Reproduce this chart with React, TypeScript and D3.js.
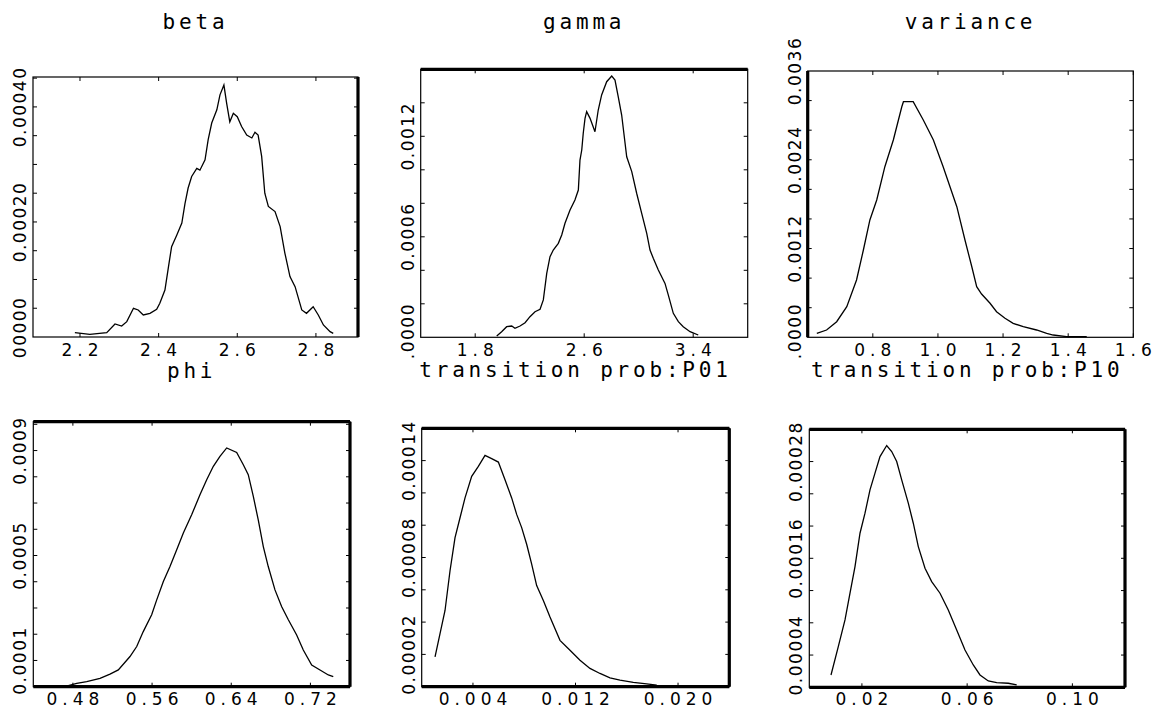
import React from 'react';
import * as d3 from 'd3';

// posterior densities
const betaX = [2.187, 2.225, 2.268, 2.289, 2.306, 2.319, 2.336, 2.348, 2.361, 2.378, 2.395, 2.403, 2.416, 2.425, 2.433, 2.446, 2.459, 2.467, 2.475, 2.484, 2.497, 2.505, 2.518, 2.526, 2.535, 2.548, 2.556, 2.566, 2.573, 2.581, 2.590, 2.600, 2.611, 2.624, 2.637, 2.645, 2.653, 2.662, 2.670, 2.679, 2.696, 2.709, 2.721, 2.734, 2.747, 2.764, 2.776, 2.793, 2.806, 2.819, 2.836, 2.844];
const betaY = [0.0000075, 0.0000046, 0.0000075, 0.0000226, 0.0000191, 0.0000267, 0.0000499, 0.000047, 0.0000383, 0.0000412, 0.0000481, 0.0000586, 0.0000817, 0.000122, 0.000157, 0.000177, 0.000198, 0.000232, 0.000259, 0.000279, 0.000293, 0.00029, 0.000308, 0.000343, 0.000372, 0.000395, 0.000421, 0.000438, 0.000406, 0.000374, 0.000389, 0.000383, 0.000366, 0.000351, 0.000346, 0.000356, 0.000351, 0.000314, 0.00025, 0.000227, 0.000218, 0.000192, 0.000146, 0.000105, 0.0000875, 0.000047, 0.0000412, 0.0000527, 0.0000383, 0.0000209, 0.0000093, 0.0000064];

const gammaX = [1.958, 1.994, 2.031, 2.068, 2.092, 2.129, 2.166, 2.202, 2.239, 2.276, 2.300, 2.325, 2.349, 2.373, 2.410, 2.435, 2.459, 2.496, 2.532, 2.557, 2.569, 2.582, 2.593, 2.606, 2.618, 2.643, 2.679, 2.703, 2.728, 2.765, 2.802, 2.826, 2.850, 2.875, 2.912, 2.949, 2.985, 3.022, 3.059, 3.083, 3.107, 3.144, 3.193, 3.217, 3.254, 3.291, 3.327, 3.377, 3.437];
const gammaY = [0.0000078, 0.0000334, 0.0000633, 0.0000675, 0.0000537, 0.0000675, 0.0000872, 0.000123, 0.000153, 0.000167, 0.000223, 0.000382, 0.000481, 0.000521, 0.000561, 0.000611, 0.000681, 0.00076, 0.00082, 0.000879, 0.001058, 0.001118, 0.001218, 0.001307, 0.001347, 0.001307, 0.001227, 0.001357, 0.001447, 0.001526, 0.00156, 0.001536, 0.001436, 0.001327, 0.001078, 0.000989, 0.00086, 0.00074, 0.000621, 0.000521, 0.000472, 0.000402, 0.000322, 0.000253, 0.000143, 0.0000931, 0.0000633, 0.0000334, 0.0000137];

const varianceX = [0.628, 0.658, 0.689, 0.720, 0.750, 0.771, 0.791, 0.812, 0.837, 0.863, 0.889, 0.894, 0.924, 0.955, 0.986, 1.016, 1.037, 1.058, 1.083, 1.104, 1.119, 1.134, 1.160, 1.180, 1.206, 1.231, 1.262, 1.303, 1.334, 1.354, 1.395, 1.457];
const varianceY = [0.000054, 0.0000987, 0.000211, 0.000414, 0.000775, 0.00118, 0.001586, 0.001856, 0.002306, 0.002667, 0.003117, 0.003185, 0.003185, 0.002938, 0.002667, 0.002306, 0.002036, 0.001766, 0.001315, 0.000954, 0.000684, 0.000585, 0.00046, 0.000346, 0.000257, 0.000189, 0.000143, 0.0000987, 0.000054, 0.000031, 0.00001, 0.00001];

const phiX = [0.4754, 0.4839, 0.494, 0.5074, 0.5175, 0.5259, 0.5377, 0.5445, 0.5511, 0.5596, 0.5647, 0.5714, 0.5781, 0.5849, 0.5916, 0.6, 0.6084, 0.6152, 0.6219, 0.6286, 0.6354, 0.6455, 0.6522, 0.6572, 0.6623, 0.6673, 0.6724, 0.6774, 0.6842, 0.691, 0.6977, 0.7061, 0.7128, 0.7213, 0.7297, 0.7381, 0.7431];
const phiY = [0.0000038, 0.000013, 0.000019, 0.000032, 0.000048, 0.000064, 0.000115, 0.000153, 0.00021, 0.000274, 0.000331, 0.000401, 0.000458, 0.000522, 0.000586, 0.000655, 0.000732, 0.000789, 0.00084, 0.000878, 0.00091, 0.000893, 0.000846, 0.000808, 0.000725, 0.000636, 0.000534, 0.000458, 0.000369, 0.000305, 0.000255, 0.000197, 0.00014, 0.0000828, 0.0000637, 0.0000447, 0.0000382];

const p01X = [0.00104, 0.00143, 0.00182, 0.00221, 0.0026, 0.00299, 0.00338, 0.0039, 0.00442, 0.00494, 0.00546, 0.00598, 0.0065, 0.00702, 0.00741, 0.0078, 0.00819, 0.00858, 0.00897, 0.00949, 0.01001, 0.01079, 0.01157, 0.01235, 0.01313, 0.01391, 0.01469, 0.01547, 0.01651, 0.01755, 0.01834];
const p01Y = [0.0000185, 0.0000329, 0.0000472, 0.0000718, 0.0000923, 0.0001046, 0.0001169, 0.0001303, 0.0001364, 0.0001432, 0.0001412, 0.0001391, 0.0001282, 0.0001169, 0.0001067, 0.0000985, 0.0000882, 0.0000759, 0.0000626, 0.0000534, 0.0000431, 0.0000287, 0.0000226, 0.0000164, 0.0000113, 0.0000082, 0.0000055, 0.0000041, 0.0000027, 0.0000017, 0.000001];

const p10X = [0.00825, 0.01102, 0.01357, 0.01547, 0.01737, 0.01927, 0.02117, 0.02307, 0.02497, 0.02687, 0.02942, 0.03132, 0.03322, 0.03512, 0.03763, 0.03953, 0.04143, 0.04398, 0.04652, 0.04968, 0.05283, 0.05602, 0.05918, 0.06233, 0.06488, 0.06804, 0.07123, 0.07564, 0.07883];
const p10Y = [0.0000153, 0.0000504, 0.0000835, 0.0001167, 0.0001497, 0.0001911, 0.000216, 0.0002449, 0.0002656, 0.0002862, 0.0002999, 0.0002924, 0.00028, 0.0002573, 0.0002284, 0.0002035, 0.0001745, 0.0001477, 0.0001311, 0.0001167, 0.0000959, 0.0000711, 0.0000463, 0.0000277, 0.0000153, 0.0000078, 0.0000057, 0.000005, 0.0000029];

const titles = ['beta', 'gamma', 'variance', 'phi', 'transition prob:P01', 'transition prob:P10'];

// axis ticks
const betaXTicks = [2.2, 2.4, 2.6, 2.8];
const gammaXTicks = [1.8, 2.6, 3.4];
const varianceXTicks = [0.8, 1.0, 1.2, 1.4, 1.6];
const phiXTicks = [0.48, 0.56, 0.64, 0.72];
const p01XTicks = [0.004, 0.012, 0.020];
const p10XTicks = [0.02, 0.06, 0.10];

const betaYLabels = [0, 0.0002, 0.0004];
const gammaYLabels = [0, 0.0006, 0.0012];
const varianceYLabels = [0, 0.0012, 0.0024, 0.0036];
const phiYLabels = [0.0001, 0.0005, 0.0009];
const p01YLabels = [0.00002, 0.00008, 0.00014];
const p10YLabels = [0.00004, 0.00016, 0.00028];

const W = 1161;
const H = 713;
const TICK_FONT = "'DejaVu Sans', sans-serif";
const TITLE_FONT = "'DejaVu Sans Mono', monospace";

const panels = [
  { x: betaX, y: betaY, xDomain: [2.0805, 2.907], yDomain: [0, 0.000452], xTicks: betaXTicks, yStep: 0.00005, yLabels: betaYLabels, xFmt: '.1f', yFmt: '.5f',
    box: [33, 77, 358, 337], thick: ['right'], titleY: 29, tickY: 356, clip: [0, 358] },
  { x: gammaX, y: gammaY, xDomain: [1.4, 3.8], yDomain: [0, 0.0016], xTicks: gammaXTicks, yStep: 0.0002, yLabels: gammaYLabels, xFmt: '.1f', yFmt: '.4f',
    box: [420.7, 69.3, 747.7, 337.3], thick: ['top'], titleY: 29, tickY: 356, clip: [0, 358] },
  { x: varianceX, y: varianceY, xDomain: [0.6, 1.6], yDomain: [0, 0.0036], xTicks: varianceXTicks, yStep: 0.0004, yLabels: varianceYLabels, xFmt: '.1f', yFmt: '.4f',
    box: [807.7, 71, 1133.3, 337.3], thick: ['left'], titleY: 29, tickY: 356, clip: [0, 358] },
  { x: phiX, y: phiY, xDomain: [0.44, 0.76], yDomain: [0, 0.00101], xTicks: phiXTicks, yStep: 0.0001, yLabels: phiYLabels, xFmt: '.2f', yFmt: '.4f',
    box: [33.3, 421.7, 350, 686.7], thick: ['top', 'bottom', 'right'], titleY: 378, tickY: 705, clip: [410, H] },
  { x: p01X, y: p01Y, xDomain: [0, 0.024], yDomain: [0, 0.00016], xTicks: p01XTicks, yStep: 0.00002, yLabels: p01YLabels, xFmt: '.3f', yFmt: '.5f',
    box: [421.7, 428.3, 729.3, 686.7], thick: ['top', 'bottom', 'right'], titleY: 377, tickY: 705, clip: [410, H] },
  { x: p10X, y: p10Y, xDomain: [0, 0.12], yDomain: [0, 0.00032], xTicks: p10XTicks, yStep: 0.00004, yLabels: p10YLabels, xFmt: '.2f', yFmt: '.5f',
    box: [809.3, 429.3, 1125, 687.3], thick: ['top', 'bottom', 'right'], titleY: 377, tickY: 705, clip: [410, H] },
];

function Panel({ p, i }) {
  const [l, t, r, b] = p.box;
  const xs = d3.scaleLinear().domain(p.xDomain).range([l, r]);
  const ys = d3.scaleLinear().domain(p.yDomain).range([b, t]);
  const line = d3.line().x((d) => xs(d[0])).y((d) => ys(d[1]));
  const pts = p.x.map((v, k) => [v, p.y[k]]);
  const nMinor = Math.floor(p.yDomain[1] / p.yStep + 1e-6);
  const minor = d3.range(1, nMinor + 1).map((k) => k * p.yStep).filter((v) => ys(v) > t + 1);
  const xf = d3.format(p.xFmt);
  const yf = d3.format(p.yFmt);
  const edges = {
    top: [l, t, r, t],
    bottom: [l, b, r, b],
    left: [l, t, l, b],
    right: [r, t, r, b],
  };
  return (
    <g>
      <defs>
        <clipPath id={`ylab-clip-${i}`}>
          <rect x={0} y={p.clip[0]} width={W} height={p.clip[1] - p.clip[0]} />
        </clipPath>
      </defs>

      {/* title */}
      <text x={(l + r) / 2} y={p.titleY} textAnchor='middle' fontFamily={TITLE_FONT} fontSize={21} letterSpacing={3.8}>
        {titles[i]}
      </text>

      {/* frame */}
      <rect x={l} y={t} width={r - l} height={b - t} fill='none' stroke='#000' strokeWidth={1.2} />
      {p.thick.map((s) => {
        const e = edges[s];
        return <line key={s} x1={e[0]} y1={e[1]} x2={e[2]} y2={e[3]} stroke='#000' strokeWidth={3.2} />;
      })}

      {/* y ticks, inside on both sides */}
      {minor.map((v) => (
        <g key={v}>
          <line x1={l} x2={l + 4} y1={ys(v)} y2={ys(v)} stroke='#000' strokeWidth={1} />
          <line x1={r} x2={r - 4} y1={ys(v)} y2={ys(v)} stroke='#000' strokeWidth={1} />
        </g>
      ))}

      {/* x ticks */}
      {p.xTicks.map((v) => (
        <g key={v}>
          <line x1={xs(v)} x2={xs(v)} y1={t} y2={t + 4} stroke='#000' strokeWidth={1} />
          <line x1={xs(v)} x2={xs(v)} y1={b} y2={b - 4} stroke='#000' strokeWidth={1} />
          <text x={xs(v) + 2.5} y={p.tickY} textAnchor='middle' fontFamily={TICK_FONT} fontSize={17} letterSpacing={5}>
            {xf(v)}
          </text>
        </g>
      ))}

      {/* y labels, rotated */}
      <g clipPath={`url(#ylab-clip-${i})`}>
        {p.yLabels.map((v) => (
          <text key={v} transform={`translate(${l - 7},${ys(v)}) rotate(-90)`} textAnchor='middle'
            fontFamily={TICK_FONT} fontSize={17} letterSpacing={1.5}>
            {yf(v)}
          </text>
        ))}
      </g>

      {/* density curve */}
      <path d={line(pts)} fill='none' stroke='#000' strokeWidth={1.3} />
    </g>
  );
}

export default function App() {
  return (
    <svg width={W} height={H} viewBox={`0 0 ${W} ${H}`}
      style={{ position: 'absolute', left: 0, top: 0, background: '#fff' }}>
      <rect x={0} y={0} width={W} height={H} fill='#fff' />
      {panels.map((p, i) => <Panel key={i} p={p} i={i} />)}
    </svg>
  );
}
